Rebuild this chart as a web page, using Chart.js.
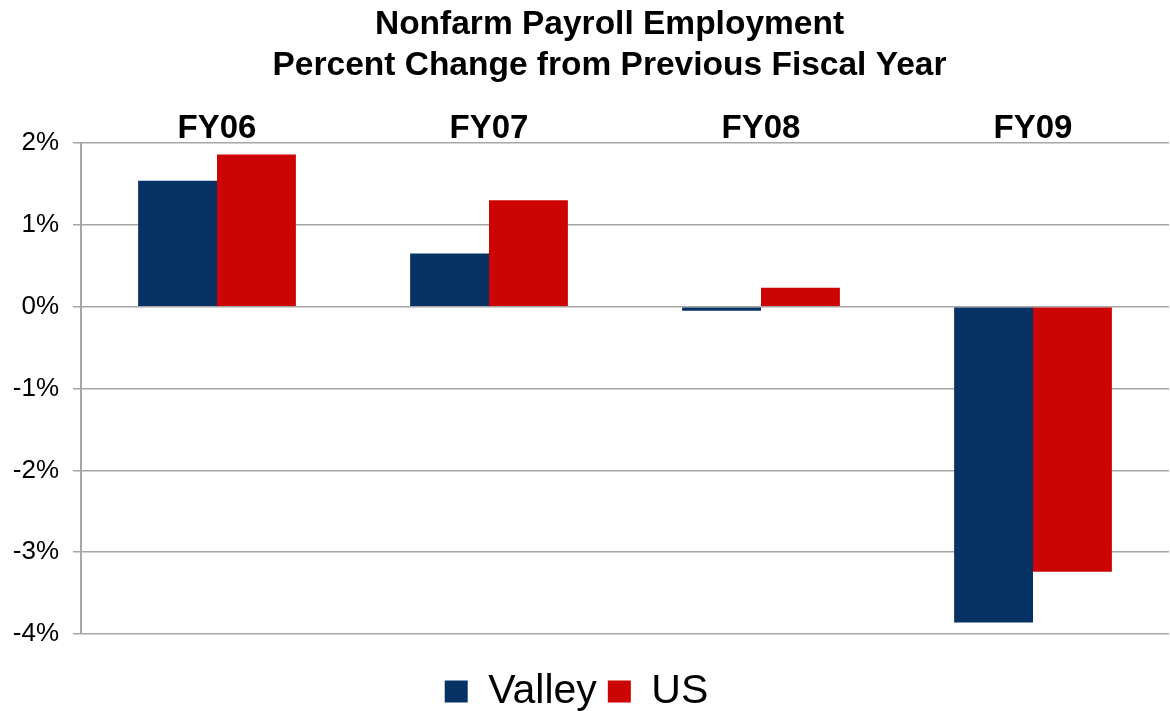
<!DOCTYPE html>
<html>
<head>
<meta charset="utf-8">
<script src="https://cdn.jsdelivr.net/npm/chart.js@4.4.1/dist/chart.umd.min.js"></script>
<style>
  html, body { margin: 0; padding: 0; background: #fff; }
  #wrap { width: 1170px; height: 711px; position: relative; }
</style>
</head>
<body>
<div id="wrap"><canvas id="c"></canvas></div>
<script>
// ── data ──
const categories = ['FY06', 'FY07', 'FY08', 'FY09'];
const valley = [1.54, 0.65, -0.05, -3.86];
const us = [1.86, 1.30, 0.23, -3.24];
const yTicks = [2, 1, 0, -1, -2, -3, -4];

const FONT = 'Arial, "Liberation Sans", sans-serif';
const GRID = '#a6a6a6';

// title sits a bit right of centre in the original, legend a bit left and low
const nudge = {
    id: 'nudge',
    afterLayout(chart) {
        chart.titleBlock.left += 50;
        const lg = chart.legend;
        lg.left -= 8; lg.right -= 8;
        lg.top += 11; lg.bottom += 11;
    },
};

new Chart(document.getElementById('c'), {
    type: 'bar',
    data: {
        labels: categories,
        datasets: [
            { label: 'Valley', data: valley, backgroundColor: '#063264' },
            { label: 'US', data: us, backgroundColor: '#cc0404' },
        ],
    },
    plugins: [nudge],
    options: {
        responsive: true, maintainAspectRatio: false, animation: false,
        categoryPercentage: 0.58, barPercentage: 1.0,
        layout: { padding: { left: 0, right: 1, top: 0, bottom: 0 } },
        plugins: {
            title: {
                display: true,
                text: ['Nonfarm Payroll Employment', 'Percent Change from Previous Fiscal Year'],
                color: '#000',
                font: { family: FONT, size: 33.5, weight: 'bold', lineHeight: 1.2 },
                padding: { top: 5, bottom: 0 },
            },
            legend: {
                position: 'bottom',
                labels: {
                    color: '#000',
                    font: { family: FONT, size: 41 },
                    boxWidth: 23, boxHeight: 22, padding: 11,
                },
            },
            tooltip: { enabled: false },
        },
        scales: {
            x: {
                position: 'top',
                afterFit: (axis) => { axis.height = 57.6; },
                grid: { display: false, drawTicks: false },
                border: { display: false },
                ticks: { color: '#000', font: { family: FONT, size: 33, weight: 'bold' }, padding: -6 },
            },
            // empty spacer between plot and legend
            gap: {
                type: 'category', labels: categories,
                position: 'bottom',
                afterFit: (axis) => { axis.height = 15; },
                grid: { display: false, drawTicks: false },
                border: { display: false },
                ticks: { display: false },
            },
            y: {
                min: -4, max: 2,
                afterBuildTicks: (axis) => { axis.ticks = yTicks.map(v => ({ value: v })); },
                afterFit: (axis) => { axis.width = 81; },
                grid: { color: GRID, lineWidth: 1.5, tickLength: 8 },
                border: { color: GRID, width: 2 },
                ticks: { color: '#000', font: { family: FONT, size: 26 }, padding: 14, callback: v => v + '%' },
            },
        },
    },
});
</script>
</body>
</html>
